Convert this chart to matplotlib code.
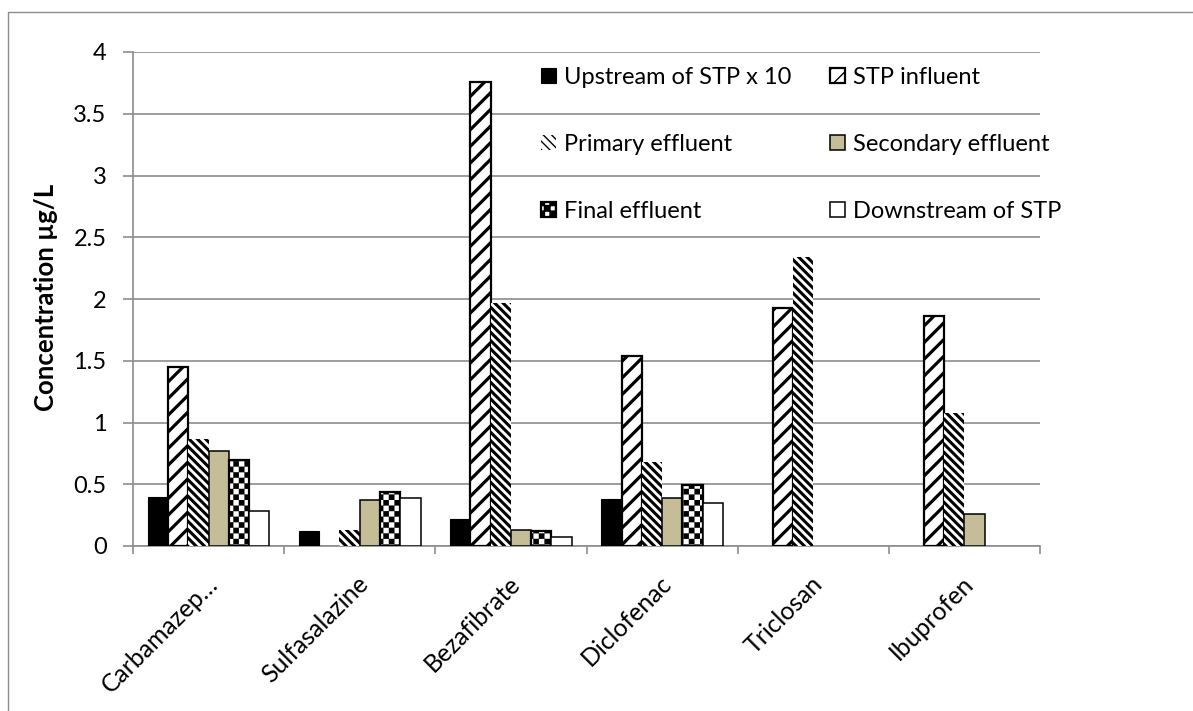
import numpy as np
import matplotlib
matplotlib.use("Agg")
import matplotlib.pyplot as plt
import matplotlib.hatch as mhatch
from matplotlib.path import Path
from matplotlib.patches import Patch
from matplotlib.lines import Line2D
import matplotlib.transforms as mtrans

# ---------------- data ----------------
categories = ["Carbamazep\u2026", "Sulfasalazine", "Bezafibrate", "Diclofenac", "Triclosan", "Ibuprofen"]
series_names = ["Upstream of STP x 10", "STP influent", "Primary effluent",
                "Secondary effluent", "Final effluent", "Downstream of STP"]
upstream_x10 = [0.40, 0.12, 0.22, 0.38, 0.00, 0.00]
stp_influent = [1.45, 0.00, 3.76, 1.54, 1.93, 1.86]
primary_eff = [0.87, 0.13, 1.97, 0.68, 2.34, 1.08]
secondary_eff = [0.77, 0.37, 0.13, 0.39, 0.00, 0.26]
final_eff = [0.70, 0.44, 0.12, 0.49, 0.00, 0.00]
downstream = [0.28, 0.39, 0.07, 0.35, 0.00, 0.00]
yticks = [0, 0.5, 1, 1.5, 2, 2.5, 3, 3.5, 4]
ytick_labels = ["0", "0.5", "1", "1.5", "2", "2.5", "3", "3.5", "4"]
y_label = "Concentration \u00b5g/L"

# ---------------- checkerboard hatch ----------------
class CheckerHatch(mhatch.HatchPatternBase):
    cells = 18
    margin = 0.0
    def __init__(self, hatch, density):
        self.n = self.cells if hatch.count('O') else 0
        self.num_vertices = (self.n * self.n // 2) * 5

    def set_vertices_and_codes(self, vertices, codes):
        n = self.n
        s = 1.0 / n
        m = self.margin
        parts = []
        for i in range(n):
            for j in range(n):
                if (i + j) % 2 == 0:
                    x0, y0 = i * s + m, j * s + m
                    x1, y1 = (i + 1) * s - m, (j + 1) * s - m
                    parts.append([[x0, y0], [x1, y0], [x1, y1], [x0, y1], [x0, y0]])
        vertices[:] = np.array(parts).reshape(-1, 2)
        codes[:] = np.tile([Path.MOVETO, Path.LINETO, Path.LINETO, Path.LINETO, Path.CLOSEPOLY], len(parts))

mhatch._hatch_types[:] = [t for t in mhatch._hatch_types if t is not mhatch.LargeCircles] + [CheckerHatch]

# ---------------- style ----------------
FONT = ["Lato", "DejaVu Sans"]
plt.rcParams['font.family'] = FONT
GRID = "#8c8c8c"
TAN = "#C4BD97"
FS = 17

W, H = 1193, 711
fig = plt.figure(figsize=(W / 100, H / 100), dpi=100)
ax = fig.add_axes([133 / W, 1 - 546 / H, (1040 - 133) / W, (546 - 52) / H])

has_hlw = hasattr(matplotlib.patches.Rectangle, "set_hatch_linewidth")
styles = [
    dict(facecolor="black", edgecolor="black", linewidth=0.8, hatch=None, hlw=None),
    dict(facecolor="white", edgecolor="black", linewidth=1.6, hatch="//", hlw=2.3),
    dict(facecolor="white", edgecolor="black", linewidth=0.0, hatch="\\\\\\\\", hlw=2.2),
    dict(facecolor=TAN, edgecolor="black", linewidth=1.1, hatch=None, hlw=None),
    dict(facecolor="white", edgecolor="black", linewidth=1.6, hatch="O", hlw=0.1),
    dict(facecolor="white", edgecolor="black", linewidth=1.1, hatch=None, hlw=None),
]
all_series = [upstream_x10, stp_influent, primary_eff, secondary_eff, final_eff, downstream]

x = np.arange(len(categories))
nser = len(all_series)
bw = 0.134
handles = []
for k, (vals, st) in enumerate(zip(all_series, styles)):
    vals = np.asarray(vals, dtype=float)
    idx = np.where(vals > 0)[0]
    pos = x[idx] + (k - (nser - 1) / 2) * bw
    hl = st["hlw"] if st["hlw"] is not None else 1.0
    with plt.rc_context({'hatch.linewidth': hl}):
        bars = ax.bar(pos, vals[idx], width=bw, facecolor=st["facecolor"], edgecolor=st["edgecolor"],
                      linewidth=st["linewidth"], hatch=st["hatch"], zorder=3)
        h = Patch(facecolor=st["facecolor"], edgecolor=st["edgecolor"],
                  linewidth=max(st["linewidth"], 0.8) if k != 2 else 0, hatch=st["hatch"])
    if has_hlw:
        for b in bars:
            b.set_hatch_linewidth(hl)
        h.set_hatch_linewidth(hl)
    handles.append(h)

ax.set_xlim(-0.5, len(categories) - 0.5)
ax.set_ylim(0, 4)
ax.set_yticks(yticks)
ax.set_yticklabels(ytick_labels, fontsize=FS)
ax.yaxis.grid(True, color=GRID, linewidth=1.2, zorder=0)
ax.set_axisbelow(True)
ax.tick_params(axis='y', direction='out', length=7, width=1.2, color=GRID, pad=12)

ax.set_xticks(x)
ax.set_xticks(np.arange(-0.5, len(categories)), minor=True)
ax.tick_params(axis='x', which='major', length=0)
ax.tick_params(axis='x', which='minor', direction='out', length=6, width=1.2, color=GRID)
ax.set_xticklabels(categories, rotation=45, ha='right', rotation_mode='anchor', fontsize=17.8)
offset = mtrans.ScaledTranslation(-3 / 100, -21 / 100, fig.dpi_scale_trans)
for lab in ax.get_xticklabels():
    lab.set_transform(lab.get_transform() + offset)

for s in ["top", "right"]:
    ax.spines[s].set_visible(False)
for s in ["left", "bottom"]:
    ax.spines[s].set_color(GRID)
    ax.spines[s].set_linewidth(1.2)

ax.set_ylabel(y_label, fontsize=18.5, fontweight='bold')
ax.yaxis.set_label_coords((58 - 133) / 907, (546 - 297) / 494)

# legend: two columns, row-major order as in the reference
col1 = [0, 2, 4]
col2 = [1, 3, 5]
leg_kw = dict(frameon=False, fontsize=FS, handlelength=0.62, handleheight=0.62,
              handletextpad=0.35, labelspacing=1.95, borderpad=0, borderaxespad=0, loc='upper left')
leg1 = ax.legend([handles[i] for i in col1], [series_names[i] for i in col1],
                 bbox_to_anchor=(541 / W, 1 - 67 / H), bbox_transform=fig.transFigure, **leg_kw)
ax.add_artist(leg1)
leg2 = ax.legend([handles[i] for i in col2], [series_names[i] for i in col2],
                 bbox_to_anchor=(830 / W, 1 - 67 / H), bbox_transform=fig.transFigure, **leg_kw)

# outer chart-area border
fig.add_artist(Line2D([8 / W, 8 / W, 1.0], [0.0, 1 - 12 / H, 1 - 12 / H],
                      transform=fig.transFigure, color=GRID, linewidth=1.0))

fig.savefig("out.png", dpi=100)
